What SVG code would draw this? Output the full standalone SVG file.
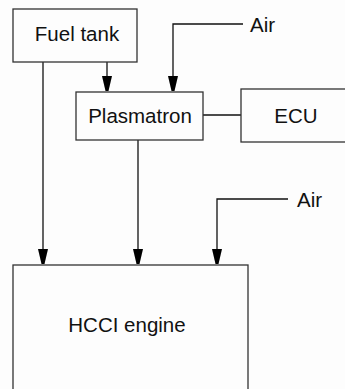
<svg xmlns="http://www.w3.org/2000/svg" width="345" height="389" viewBox="0 0 345 389">
<style>
.box{fill:none;stroke:#333;stroke-width:1.3}
.ln{fill:none;stroke:#111;stroke-width:1.3}
text{font-family:"Liberation Sans",Arial,sans-serif;font-size:20.5px;fill:#111}
</style>
<defs>
<marker id="ah" markerUnits="userSpaceOnUse" markerWidth="16" markerHeight="12" refX="15" refY="5" orient="auto" viewBox="0 0 16 10">
<path d="M0,0 L0,10 L15,6.5 L15,3.5 Z" fill="#000"/>
</marker>
</defs>
<rect x="0" y="0" width="345" height="389" fill="#fdfdfd"/>
<g id="connectors">
<path class="ln" d="M107,62 V91" marker-end="url(#ah)"/>
<path class="ln" d="M243,24 H173 V91" marker-end="url(#ah)"/>
<path class="ln" d="M203,115 H241"/>
<path class="ln" d="M43,62 V264" marker-end="url(#ah)"/>
<path class="ln" d="M138,140 V264" marker-end="url(#ah)"/>
<path class="ln" d="M288,199 H217 V264" marker-end="url(#ah)"/>
</g>
<g id="fuel-tank">
<rect class="box" x="13" y="9" width="124" height="53"/>
<text x="77" y="41" text-anchor="middle">Fuel tank</text>
</g>
<g id="plasmatron">
<rect class="box" x="76" y="92" width="127" height="48" fill="#fdfdfd"/>
<text x="140" y="123" text-anchor="middle">Plasmatron</text>
</g>
<g id="ecu">
<rect class="box" x="241" y="89" width="120" height="53"/>
<text x="296" y="123" text-anchor="middle">ECU</text>
</g>
<g id="air-top">
<text x="250" y="32">Air</text>
</g>
<g id="air-bottom">
<text x="297" y="207">Air</text>
</g>
<g id="hcci-engine">
<rect class="box" x="13" y="265" width="235" height="140"/>
<text x="127" y="332" text-anchor="middle">HCCI engine</text>
</g>
</svg>
